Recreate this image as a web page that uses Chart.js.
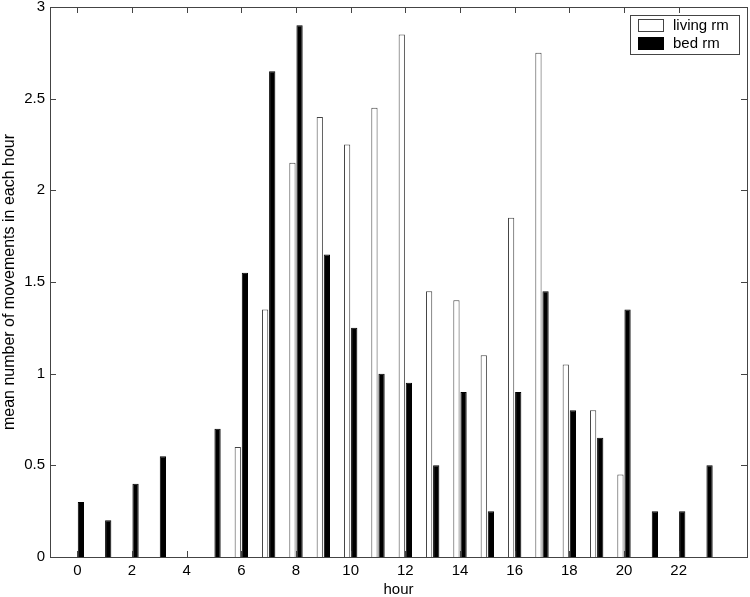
<!DOCTYPE html>
<html>
<head>
<meta charset="utf-8">
<script src="https://cdn.jsdelivr.net/npm/chart.js@4/dist/chart.umd.min.js"></script>
<style>
  html, body { margin: 0; padding: 0; background: #fff; }
  canvas { display: block; }
</style>
</head>
<body>
<canvas id="chart" width="750" height="597"></canvas>
<script>
// mean movements per hour
const hours = [0,1,2,3,4,5,6,7,8,9,10,11,12,13,14,15,16,17,18,19,20,21,22,23];
const livingRm = [0,0,0,0,0,0,0.6,1.35,2.15,2.4,2.25,2.45,2.85,1.45,1.4,1.1,1.85,2.75,1.05,0.8,0.45,0,0,0];
const bedRm = [0.3,0.2,0.4,0.55,0,0.7,1.55,2.65,2.9,1.65,1.25,1.0,0.95,0.5,0.9,0.25,0.9,1.45,0.8,0.65,1.35,0.25,0.25,0.5];
const xTicks = [0,2,4,6,8,10,12,14,16,18,20,22];
const yTicks = [0,0.5,1,1.5,2,2.5,3];

const font = { family: "'Liberation Sans', Arial, Helvetica, sans-serif", size: 15 };
const axisColor = '#444';

// matlab style box with inward ticks on all four sides
const boxPlugin = {
  id: 'box',
  afterDatasetsDraw(chart) {
    const { ctx, chartArea: a, scales } = chart;
    const len = 6;
    ctx.save();
    ctx.strokeStyle = axisColor;
    ctx.lineWidth = 1;
    ctx.beginPath();
    xTicks.forEach(v => {
      const px = Math.round(scales.x.getPixelForValue(v)) + 0.5;
      ctx.moveTo(px, a.bottom); ctx.lineTo(px, a.bottom - len);
      ctx.moveTo(px, a.top); ctx.lineTo(px, a.top + len);
    });
    yTicks.forEach(v => {
      const py = Math.round(scales.y.getPixelForValue(v)) + 0.5;
      ctx.moveTo(a.left, py); ctx.lineTo(a.left + len, py);
      ctx.moveTo(a.right, py); ctx.lineTo(a.right - len, py);
    });
    ctx.stroke();
    ctx.strokeRect(Math.round(a.left) + 0.5, Math.round(a.top) + 0.5,
      Math.round(a.right - a.left), Math.round(a.bottom - a.top));
    ctx.restore();
  }
};

// legend box in the top right corner of the plot
const legendPlugin = {
  id: 'boxLegend',
  afterDraw(chart) {
    const { ctx, chartArea: a } = chart;
    const ds = chart.data.datasets;
    const w = 109, h = 39;
    const x0 = a.right - 8 - w, y0 = a.top + 8;
    ctx.save();
    ctx.fillStyle = '#fff';
    ctx.fillRect(x0, y0, w, h);
    ctx.strokeStyle = axisColor;
    ctx.lineWidth = 1;
    ctx.strokeRect(x0 + 0.5, y0 + 0.5, w, h);
    ctx.font = font.size + 'px ' + font.family;
    ctx.textBaseline = 'middle';
    ds.forEach((d, i) => {
      const sy = y0 + 4 + i * 18;
      ctx.fillStyle = d.backgroundColor;
      ctx.fillRect(x0 + 8, sy, 26, 13);
      ctx.strokeStyle = d.borderColor;
      ctx.strokeRect(x0 + 8.5, sy + 0.5, 25, 12);
      ctx.fillStyle = '#000';
      ctx.fillText(d.label, x0 + 43, sy + 7);
    });
    ctx.restore();
  }
};

new Chart(document.getElementById('chart'), {
  type: 'bar',
  data: {
    datasets: [
      {
        label: 'living rm',
        data: hours.map((h, i) => ({ x: h, y: livingRm[i] })),
        backgroundColor: '#ffffff',
        borderColor: '#444444',
        borderWidth: 1,
        borderSkipped: 'start'
      },
      {
        label: 'bed rm',
        data: hours.map((h, i) => ({ x: h, y: bedRm[i] })),
        backgroundColor: '#000000',
        borderColor: '#000000',
        borderWidth: 1,
        borderSkipped: 'start'
      }
    ]
  },
  options: {
    responsive: false,
    animation: false,
    categoryPercentage: 0.52,
    barPercentage: 0.88,
    layout: { padding: { top: 7, right: 3, left: 0, bottom: 0 } },
    plugins: {
      legend: { display: false },
      tooltip: { enabled: false }
    },
    scales: {
      x: {
        type: 'linear',
        min: -1,
        max: 24.5,
        offset: false,
        grid: { display: false, drawTicks: false },
        border: { display: false },
        afterBuildTicks: s => { s.ticks = xTicks.map(v => ({ value: v })); },
        afterFit: s => { s.height = 40; s.paddingLeft = 0; s.paddingRight = 0; },
        ticks: { font, color: '#000', padding: 5, autoSkip: false, maxRotation: 0 },
        title: { display: true, text: 'hour', font: { ...font, lineHeight: 1.0 }, color: '#000', padding: 0 }
      },
      y: {
        min: 0,
        max: 3,
        grid: { display: false, drawTicks: false },
        border: { display: false },
        afterBuildTicks: s => { s.ticks = yTicks.map(v => ({ value: v })); },
        afterFit: s => { s.width = 50; s.paddingTop = 0; s.paddingBottom = 0; },
        ticks: { font, color: '#000', padding: 5, callback: v => String(v) },
        title: { display: true, text: 'mean number of movements in each hour', font: { ...font, size: 16, lineHeight: 1.1 }, color: '#000', padding: 1 }
      }
    }
  },
  plugins: [boxPlugin, legendPlugin]
});
</script>
</body>
</html>
